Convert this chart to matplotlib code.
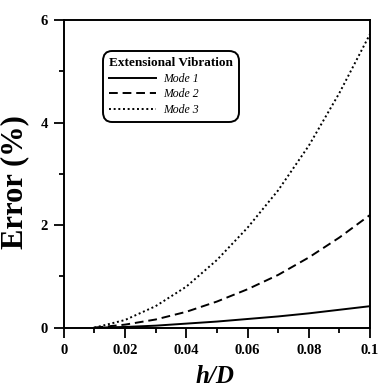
import matplotlib
matplotlib.use("Agg")
import matplotlib.pyplot as plt
from matplotlib.ticker import MultipleLocator

h_over_D = [0.01, 0.02, 0.03, 0.04, 0.05, 0.06, 0.07, 0.08, 0.09, 0.10]
mode1 = [0.0, 0.015, 0.04, 0.08, 0.12, 0.17, 0.22, 0.28, 0.35, 0.42]
mode2 = [0.0, 0.06, 0.16, 0.31, 0.51, 0.75, 1.03, 1.37, 1.76, 2.20]
mode3 = [0.0, 0.15, 0.42, 0.80, 1.32, 1.95, 2.68, 3.55, 4.58, 5.73]
x_ticks = [0, 0.02, 0.04, 0.06, 0.08, 0.1]
x_ticklabels = ["0", "0.02", "0.04", "0.06", "0.08", "0.1"]
y_ticks = [0, 2, 4, 6]
y_ticklabels = ["0", "2", "4", "6"]
legend_title = "Extensional Vibration"
labels = ["Mode 1", "Mode 2", "Mode 3"]

plt.rcParams['font.family'] = ['Liberation Serif', 'DejaVu Serif']

fig = plt.figure(figsize=(3.78, 3.87), dpi=100)
ax = fig.add_axes([0.1685, 0.1532, 0.8105, 0.7948])

lw = 1.4
ax.plot(h_over_D, mode1, color='black', lw=lw, ls='-', label=labels[0])
ax.plot(h_over_D, mode2, color='black', lw=lw, ls=(0, (4.5, 2.5)), label=labels[1])
ax.plot(h_over_D, mode3, color='black', lw=lw, ls=(0, (1, 1.4)), label=labels[2])

ax.set_xlim(0, 0.1)
ax.set_ylim(0, 6)
ax.set_xticks(x_ticks)
ax.set_xticklabels(x_ticklabels)
ax.set_yticks(y_ticks)
ax.set_yticklabels(y_ticklabels)
ax.xaxis.set_minor_locator(MultipleLocator(0.01))
ax.yaxis.set_minor_locator(MultipleLocator(1))
ax.tick_params(which='major', direction='out', length=7.2, width=1.3, labelsize=10.5, pad=4)
ax.tick_params(which='minor', direction='out', length=3.6, width=1.3)
ax.tick_params(axis='x', which='major', pad=4.5)
for lab in ax.get_xticklabels() + ax.get_yticklabels():
    lab.set_fontweight('bold')
for s in ax.spines.values():
    s.set_linewidth(1.4)

ax.set_ylabel("Error (%)", fontsize=22, fontweight='bold', va='center')
ax.yaxis.set_label_coords(-0.16, 0.473)
ax.set_xlabel("h/D", fontsize=18, fontweight='bold', style='italic', va='center')
ax.xaxis.set_label_coords(0.494, -0.16)

leg = ax.legend(title=legend_title, loc='upper left', bbox_to_anchor=(0.128, 0.898),
                borderaxespad=0, fancybox=True, framealpha=1, edgecolor='black',
                prop={'style': 'italic', 'size': 8.5}, handlelength=4.0,
                labelspacing=0.3, borderpad=0.5, handletextpad=0.6,
                title_fontproperties={'weight': 'bold', 'size': 9.5}, alignment='left')
leg.get_frame().set_linewidth(1.4)
leg.get_frame().set_boxstyle('round,pad=0,rounding_size=0.8')

fig.savefig("out.png", dpi=100)
